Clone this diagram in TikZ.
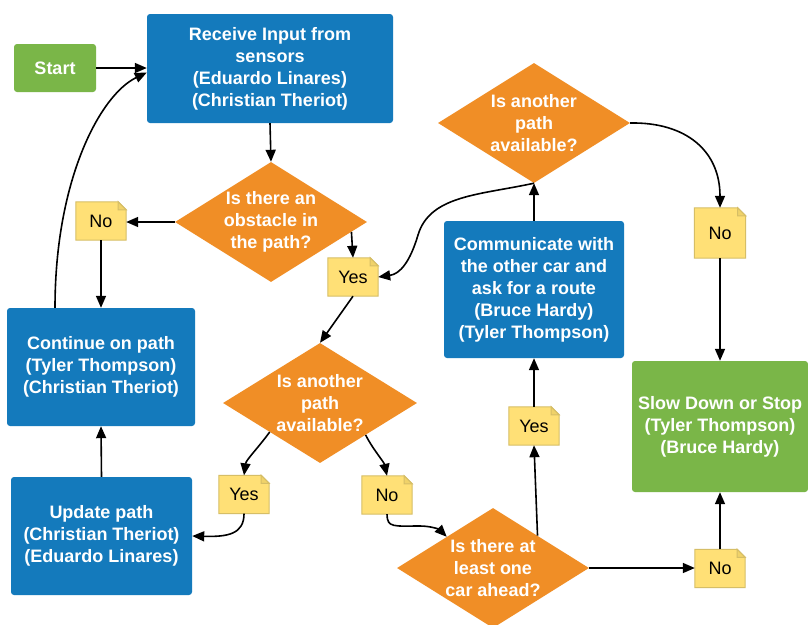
\documentclass[tikz,border=0pt]{standalone}
\usepackage{fontspec}
\setmainfont{Liberation Sans}
\usetikzlibrary{shapes.geometric,arrows.meta,backgrounds}

\definecolor{procblue}{RGB}{20,122,188}
\definecolor{decorange}{RGB}{240,142,38}
\definecolor{termgreen}{RGB}{122,182,72}
\definecolor{notefill}{RGB}{255,224,118}
\definecolor{noteedge}{RGB}{214,190,102}
\definecolor{notefold}{RGB}{240,210,105}

\tikzset{
	txt/.style={font=\fontsize{18}{22}\selectfont\bfseries, text=white, align=center, inner sep=0pt},
	process/.style={txt, rectangle, rounded corners=3pt, fill=procblue},
	terminal/.style={txt, rectangle, rounded corners=3pt, fill=termgreen},
	decision/.style={txt, diamond, fill=decorange, inner sep=-16pt, minimum width=192pt, minimum height=120pt},
	note/.style={font=\fontsize{18}{22}\selectfont, text=black, inner sep=0pt, minimum width=50pt, minimum height=38pt},
	flow/.style={-{Triangle[length=12pt,width=10pt]}, line width=1.6pt},
}

\begin{document}
\begin{tikzpicture}[x=1pt, y=-1pt]
		\useasboundingbox (0,0) rectangle (808,624);

		\node[terminal, minimum width=82pt, minimum height=48pt] (start) at (55,68) {Start};
		\node[process, minimum width=246pt, minimum height=109pt] (receive) at (270,68.5) {Receive Input from\\sensors\\(Eduardo Linares)\\(Christian Theriot)};
		\node[decision] (d1) at (271,222) {Is there an\\obstacle in\\the path?};
		\node[process, minimum width=188pt, minimum height=118pt] (cont) at (101,367) {Continue on path\\(Tyler Thompson)\\(Christian Theriot)};
		\node[process, minimum width=181pt, minimum height=118pt] (update) at (101.5,536) {Update path\\(Christian Theriot)\\(Eduardo Linares)};
		\node[decision, minimum width=194pt] (d2) at (320,403) {Is another\\path\\available?};
		\node[decision] (d3) at (493,568) {Is there at\\least one\\car ahead?};
		\node[process, minimum width=180pt, minimum height=137pt] (comm) at (534,289.5) {Communicate with\\the other car and\\ask for a route\\(Bruce Hardy)\\(Tyler Thompson)};
		\node[decision] (d4) at (534,123) {Is another\\path\\available?};
		\node[terminal, minimum width=176pt, minimum height=131pt] (slow) at (720,426.5) {Slow Down or Stop\\(Tyler Thompson)\\(Bruce Hardy)};

		\node[note] (no1) at (101,221) {No};
		\node[note] (yes1) at (353,277) {Yes};
		\node[note] (yes2) at (244,494.5) {Yes};
		\node[note] (no2) at (387,495) {No};
		\node[note] (yes3) at (534,426) {Yes};
		\node[note] (no3) at (720,568.5) {No};
		\node[note, minimum width=51pt, minimum height=50pt] (no4) at (720,233) {No};

		\begin{scope}[on background layer]
			\fill[white] (0,0) rectangle (808,624);
			\foreach \n in {no1,yes1,yes2,no2,yes3,no3,no4}{
				\draw[noteedge, fill=notefill, line width=1pt] (\n.south west) -- (\n.north west) -- ([xshift=-8pt]\n.north east) -- ([yshift=-8pt]\n.north east) -- (\n.south east) -- cycle;
				\draw[noteedge, fill=notefold, line width=1pt] ([xshift=-8pt]\n.north east) -- ([xshift=-8pt,yshift=-8pt]\n.north east) -- ([yshift=-8pt]\n.north east) -- cycle;
			}
		\end{scope}

		\draw[flow] (start.east) -- (start.east -| receive.west);
		\draw[flow] ([xshift=-46pt]cont.north) .. controls (55,180) and (100,95) .. ([yshift=-4pt]receive.west);
		\draw[flow] (receive.south) -- (d1.north);
		\draw[flow] (d1.west) -- (d1.west -| no1.east);
		\draw[flow] (no1.south) -- (cont.north);
		\draw[flow] (d1.-7) -- (yes1.north);
		\draw[flow] (yes1.south) -- (d2.north);
		\draw[flow] (d4.south) .. controls (480,195) and (430,195) .. (418,235) .. controls (410,262) and (400,274) .. (yes1.east);
		\draw[flow] (d2.210) .. controls (258,448) and (246,460) .. (yes2.north);
		\draw[flow] (yes2.south) .. controls (244,534) and (228,537) .. (update.east);
		\draw[flow] (d2.-35) .. controls (372,448) and (384,462) .. (no2.north);
		\draw[flow] (no2.south) .. controls (387,528) and (394,526) .. (420,526) .. controls (432,526) and (440,530) .. (d3.146);
		\draw[flow] (d3.36) -- (yes3.south);
		\draw[flow] (yes3.north) -- (comm.south);
		\draw[flow] (comm.north) -- (d4.south);
		\draw[flow] (d4.east) .. controls (685,122) and (720,150) .. (no4.north);
		\draw[flow] (no4.south) -- (slow.north);
		\draw[flow] (d3.east) -- (d3.east -| no3.west);
		\draw[flow] (no3.north) -- (slow.south);
		\draw[flow] (update.north) -- (cont.south);
\end{tikzpicture}
\end{document}
